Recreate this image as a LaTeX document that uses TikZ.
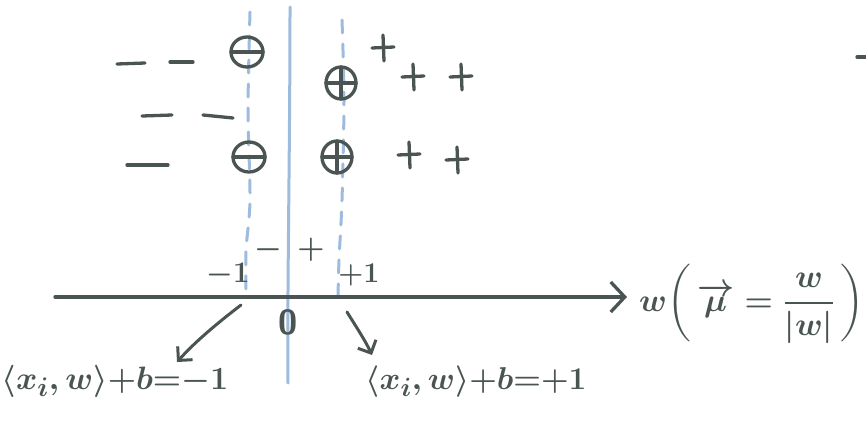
\documentclass[tikz,border=0pt]{standalone}
\usepackage{amsmath}
\usepackage{graphicx}
\usetikzlibrary{arrows.meta}
\definecolor{ink}{HTML}{4A5553}
\definecolor{pen}{HTML}{9DBBDD}
\newcommand{\bigtxt}[2]{\scalebox{#1}{#2}}
\begin{document}
\begin{tikzpicture}[x=1pt,y=-1pt,
  inkline/.style={draw=ink, line width=3.3pt, line cap=round, line join=round},
  blueline/.style={draw=pen, line width=3pt, line cap=round},
  bluedash/.style={blueline, dash pattern=on 13pt off 11pt},
  lbl/.style={text=ink, font=\Huge\sffamily\bfseries\boldmath, inner sep=0pt},
  eq/.style={text=ink, font=\Huge\boldmath, inner sep=0pt},
  barb/.style={-{Straight Barb[length=10pt,width=20pt]}},
  pics/cminus/.style={code={
    \draw[inkline] (0,0) ellipse [x radius=16, y radius=15];
    \draw[inkline] (-16,0) -- (16,0);}},
  pics/cplus/.style={code={
    \draw[inkline] (0,0) ellipse [x radius=15, y radius=16];
    \draw[inkline] (-15,0) -- (15,0);
    \draw[inkline] (0,-16) -- (0,16);}},
  pics/plussign/.style={code={
    \draw[inkline] (-11,0) -- (11,-1);
    \draw[inkline] (0,-13) -- (1,13);}}
]
\useasboundingbox (0,0) rectangle (866,423);
\fill[white] (0,0) rectangle (866,423);

% hyperplane and margins
\coordinate (hT) at (290,7);
\coordinate (hB) at (288,383);
\draw[blueline] (hT) .. controls (290,150) and (287,300) .. (hB);
\draw[bluedash] plot[smooth] coordinates {(250,12) (248,110) (250,200) (246,250) (246,290)};
\draw[bluedash] plot[smooth] coordinates {(342,20) (344,100) (342,200) (339,260) (338,298)};

% axis
\coordinate (axL) at (55,297);
\coordinate (axR) at (627,297);
\draw[inkline, -{Straight Barb[length=14pt,width=30pt]}] (axL) -- (axR);

% negative points
\draw[inkline] (117,64) -- (145,63);
\draw[inkline] (170,62) -- (193,62);
\draw[inkline] (142,116) -- (172,115);
\draw[inkline] (203,115) -- (233,118);
\draw[inkline] (127,165) -- (168,165);
\pic at (247,52) {cminus};
\pic at (249,157) {cminus};

% positive points
\pic at (341,83) {cplus};
\pic at (337,157) {cplus};
\pic at (383,48) {plussign};
\pic at (413,77) {plussign};
\pic at (461,77) {plussign};
\pic at (409,155) {plussign};
\pic at (457,160) {plussign};
\draw[inkline] (857,57) -- (866,57);

% axis labels
\node[lbl] (sm) at (268,250) {\bigtxt{1.25}{$-$}};
\node[lbl] (sp) at (311,250) {\bigtxt{1.25}{$+$}};
\node[lbl] (m1) at (228,275) {\bigtxt{1.2}{$-1$}};
\node[lbl] (p1) at (359,275) {\bigtxt{1.15}{$+1$}};
\node[lbl] (zero) at (288,322) {\bigtxt{1.4}{0}};

% formula at arrow end
\node[eq, anchor=west] (unit) at (639,304)
  {\bigtxt{1.3}{$w\!\left(\,\overrightarrow{\mu}\;{=}\;\dfrac{\;w\;}{|w|}\,\right)$}};

% margin equations
\node[eq] (lefteq) at (115,381) {\bigtxt{1.3}{$\langle x_i, w\rangle {+} b {=} {-}1$}};
\node[eq] (righteq) at (476,382) {\bigtxt{1.27}{$\langle x_i, w\rangle {+} b {=} {+}1$}};

\coordinate (la1) at (241,305);
\coordinate (la2) at (177,362);
\draw[inkline, line width=3pt, barb] (la1) .. controls (215,325) and (195,342) .. (la2);
\coordinate (ra1) at (347,312);
\coordinate (ra2) at (372,355);
\draw[inkline, line width=3pt, barb] (ra1) .. controls (355,325) and (365,340) .. (ra2);
\end{tikzpicture}
\end{document}
